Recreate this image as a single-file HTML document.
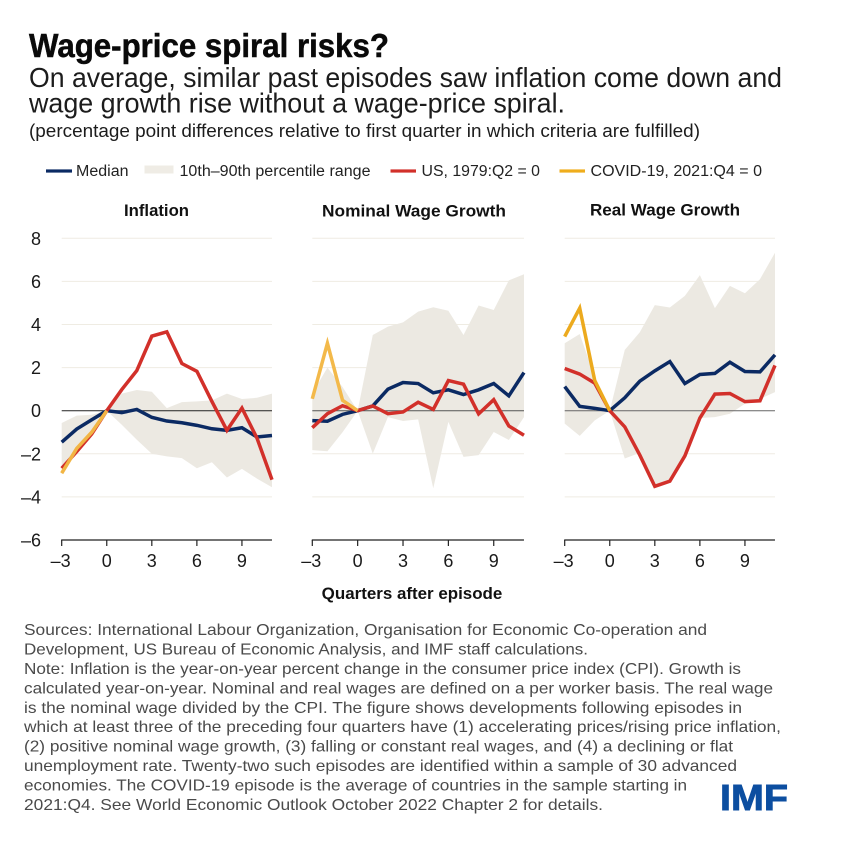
<!DOCTYPE html>
<html lang="en">
<head>
<meta charset="utf-8">
<title>Wage-price spiral risks?</title>
<style>
html,body{margin:0;padding:0;background:#fff;}
svg{display:block;font-family:"Liberation Sans",sans-serif;}
.foot{font-size:16px;fill:#4a4a4a;}
.leg{font-size:15.5px;fill:#222;}
.ptitle{font-size:16.5px;font-weight:bold;fill:#111;}
</style>
</head>
<body>
<svg id="chart" width="858" height="862" viewBox="0 0 858 862" xmlns="http://www.w3.org/2000/svg">
  <rect width="858" height="862" fill="#fff"/>
  <text x="29" y="57" font-size="33" font-weight="bold" fill="#0a0a0a" stroke="#0a0a0a" stroke-width="0.5" textLength="360" lengthAdjust="spacingAndGlyphs">Wage-price spiral risks?</text>
  <text x="29" y="87" font-size="28" fill="#1c1c1c" textLength="753" lengthAdjust="spacingAndGlyphs">On average, similar past episodes saw inflation come down and</text>
  <text x="29" y="112.5" font-size="28" fill="#1c1c1c" textLength="536" lengthAdjust="spacingAndGlyphs">wage growth rise without a wage-price spiral.</text>
  <text x="29" y="137" font-size="18" fill="#1c1c1c" textLength="671" lengthAdjust="spacingAndGlyphs">(percentage point differences relative to first quarter in which criteria are fulfilled)</text>

  <g>
    <rect x="46" y="169.4" width="26" height="3.2" fill="#0b2a63"/>
    <text class="leg" x="76" y="176" textLength="52.5" lengthAdjust="spacingAndGlyphs">Median</text>
    <rect x="144.5" y="165.5" width="29" height="8" fill="#efece5"/>
    <text class="leg" x="179.5" y="176" textLength="191" lengthAdjust="spacingAndGlyphs">10th–90th percentile range</text>
    <rect x="390.5" y="169.4" width="25.5" height="3.2" fill="#d2302a"/>
    <text class="leg" x="421.5" y="176" textLength="118.5" lengthAdjust="spacingAndGlyphs">US, 1979:Q2 = 0</text>
    <rect x="559.5" y="169.4" width="25.5" height="3.2" fill="#efad1c"/>
    <text class="leg" x="590.5" y="176" textLength="171.5" lengthAdjust="spacingAndGlyphs">COVID-19, 2021:Q4 = 0</text>
  </g>

  <text class="ptitle" x="124" y="216" textLength="65" lengthAdjust="spacingAndGlyphs">Inflation</text>
  <text class="ptitle" x="322" y="216.5" textLength="184" lengthAdjust="spacingAndGlyphs">Nominal Wage Growth</text>
  <text class="ptitle" x="590" y="215.5" textLength="150" lengthAdjust="spacingAndGlyphs">Real Wage Growth</text>

  <g id="plots"></g>

  <text x="321.7" y="599" font-size="16.5" font-weight="bold" fill="#111" textLength="180.6" lengthAdjust="spacingAndGlyphs">Quarters after episode</text>

  <g>
    <text class="foot" x="24" y="635" textLength="683" lengthAdjust="spacingAndGlyphs">Sources: International Labour Organization, Organisation for Economic Co-operation and</text>
    <text class="foot" x="24" y="654.4" textLength="564" lengthAdjust="spacingAndGlyphs">Development, US Bureau of Economic Analysis, and IMF staff calculations.</text>
    <text class="foot" x="24" y="673.9" textLength="717" lengthAdjust="spacingAndGlyphs">Note: Inflation is the year-on-year percent change in the consumer price index (CPI). Growth is</text>
    <text class="foot" x="24" y="693.3" textLength="749" lengthAdjust="spacingAndGlyphs">calculated year-on-year. Nominal and real wages are defined on a per worker basis. The real wage</text>
    <text class="foot" x="24" y="712.8" textLength="718" lengthAdjust="spacingAndGlyphs">is the nominal wage divided by the CPI. The figure shows developments following episodes in</text>
    <text class="foot" x="24" y="732.2" textLength="757" lengthAdjust="spacingAndGlyphs">which at least three of the preceding four quarters have (1) accelerating prices/rising price inflation,</text>
    <text class="foot" x="24" y="751.6" textLength="709" lengthAdjust="spacingAndGlyphs">(2) positive nominal wage growth, (3) falling or constant real wages, and (4) a declining or flat</text>
    <text class="foot" x="24" y="771.1" textLength="713" lengthAdjust="spacingAndGlyphs">unemployment rate. Twenty-two such episodes are identified within a sample of 30 advanced</text>
    <text class="foot" x="24" y="790.5" textLength="663" lengthAdjust="spacingAndGlyphs">economies. The COVID-19 episode is the average of countries in the sample starting in</text>
    <text class="foot" x="24" y="810" textLength="579" lengthAdjust="spacingAndGlyphs">2021:Q4. See World Economic Outlook October 2022 Chapter 2 for details.</text>
  </g>

  <text x="720" y="810" font-size="36" font-weight="bold" fill="#0c4ea0" stroke="#0c4ea0" stroke-width="0.9" textLength="68" lengthAdjust="spacingAndGlyphs">IMF</text>
</svg>

<script>
const quarters = [-3,-2,-1,0,1,2,3,4,5,6,7,8,9,10,11];
const yTicks = [8,6,4,2,0,-2,-4,-6];
const xTicks = [-3,0,3,6,9];

const inflationUpper  = [-0.57,-0.23,-0.19,0,0.79,0.96,0.88,0.12,0.40,0.43,0.48,0.79,0.54,0.60,0.79];
const inflationLower  = [-2.95,-1.80,-1.00,0,-0.65,-1.35,-2.00,-2.12,-2.20,-2.67,-2.39,-3.10,-2.70,-3.15,-3.55];
const inflationMedian = [-1.46,-0.85,-0.42,0,-0.09,0.06,-0.31,-0.48,-0.56,-0.68,-0.84,-0.91,-0.79,-1.22,-1.15];
const inflationUS     = [-2.67,-1.90,-1.08,0,0.98,1.86,3.46,3.66,2.19,1.83,0.43,-0.91,0.12,-1.27,-3.20];
const inflationCovid  = [-2.90,-1.75,-1.00,0];

const nominalUpper  = [0.80,2.00,1.10,0,3.51,3.90,4.10,4.60,4.80,4.64,3.51,4.88,4.67,6.05,6.33];
const nominalLower  = [-1.83,-1.88,-1.00,0,-1.99,-0.30,-0.48,-0.40,-3.60,-0.52,-2.14,-2.06,-0.99,-1.36,-0.30];
const nominalMedian = [-0.46,-0.49,-0.17,0,0.22,1.00,1.31,1.26,0.83,0.97,0.75,0.97,1.26,0.69,1.77];
const nominalUS     = [-0.79,-0.14,0.23,0,0.22,-0.14,-0.06,0.39,0.06,1.40,1.23,-0.15,0.51,-0.71,-1.14];
const nominalCovid  = [0.55,3.13,0.48,0];

const realUpper  = [3.13,3.56,1.56,0,2.82,3.64,4.90,4.79,5.33,6.29,4.76,5.79,5.45,6.10,7.33];
const realLower  = [-0.60,-1.17,-0.45,0,-2.22,-1.95,-3.51,-3.27,-2.10,-0.34,-0.30,-0.14,0.32,0.55,0.86];
const realMedian = [1.12,0.20,0.11,0,0.60,1.37,1.85,2.28,1.26,1.68,1.73,2.25,1.82,1.80,2.59];
const realUS     = [1.96,1.70,1.28,0,-0.75,-2.06,-3.51,-3.27,-2.10,-0.34,0.77,0.80,0.42,0.46,2.10];
const realCovid  = [3.44,4.76,1.40,0];

const SVGNS = 'http://www.w3.org/2000/svg';
const plots = document.getElementById('plots');

function yScale(v){ return 410.7 - 21.55 * v; }
function tickText(v){ return v < 0 ? '\u2013' + Math.abs(v) : String(v); }
function make(tag, parent, attrs){
  const el = document.createElementNS(SVGNS, tag);
  for (const k in attrs) el.setAttribute(k, attrs[k]);
  parent.appendChild(el);
  return el;
}
function pointsFor(values, xScale){
  return values.map(function(v, i){
    return xScale(quarters[i]).toFixed(2) + ',' + yScale(v).toFixed(2);
  });
}
function drawSeries(g, values, xScale, color, width, name){
  const line = make('polyline', g, {points: pointsFor(values, xScale).join(' '), fill: 'none', stroke: color, 'stroke-width': width, 'stroke-linejoin': 'miter', 'stroke-miterlimit': 6});
  
  
}
function drawPanel(key, left, step, upper, lower, median, us, covid, showYLabels, zeroColor, covidColor){
  const xScale = function(q){ return left + (q - quarters[0]) * step; };
  const right = xScale(quarters[quarters.length - 1]);
  const g = make('g', plots, {});
  
  

  yTicks.forEach(function(t){
    if (t !== 0 && t !== -6) {
      const grid = make('line', g, {x1: left, x2: right, y1: yScale(t), y2: yScale(t), stroke: '#efece3', 'stroke-width': 1});
      
      
    }
    if (showYLabels) {
      const lab = make('text', g, {x: 41, y: yScale(t) + 6.5, 'text-anchor': 'end', 'font-size': 18, fill: '#1a1a1a'});
      lab.textContent = tickText(t);
      
      
    }
  });

  const bandPts = pointsFor(upper, xScale).concat(pointsFor(lower, xScale).reverse());
  const band = make('polygon', g, {points: bandPts.join(' '), fill: '#ecE9e2'});
  
  

  const zero = make('line', g, {x1: left, x2: right, y1: yScale(0), y2: yScale(0), stroke: zeroColor, 'stroke-width': 1});
  
  

  drawSeries(g, median, xScale, '#0b2a63', 3.5, key + '-median-line');
  drawSeries(g, us, xScale, '#d2302a', 3.5, key + '-us-line');
  drawSeries(g, covid, xScale, covidColor, 3.5, key + '-covid-line');

  const axis = make('line', g, {x1: left - 0.5, x2: right, y1: yScale(-6), y2: yScale(-6), stroke: '#222', 'stroke-width': 1.2});
  
  

  xTicks.forEach(function(t){
    const tick = make('line', g, {x1: xScale(t), x2: xScale(t), y1: yScale(-6), y2: yScale(-6) + 6, stroke: '#222', 'stroke-width': 1.2});
    
    
    const lab = make('text', g, {x: xScale(t) - (t < 0 ? 1 : 0), y: 567, 'text-anchor': 'middle', 'font-size': 18, fill: '#1a1a1a'});
    lab.textContent = tickText(t);
    
    
  });
}

drawPanel('inflation', 61.7, 15.02, inflationUpper, inflationLower, inflationMedian, inflationUS, inflationCovid, true, '#222', '#f2b544');
drawPanel('nominal-wage', 312.3, 15.12, nominalUpper, nominalLower, nominalMedian, nominalUS, nominalCovid, false, '#555', '#f3b94a');
drawPanel('real-wage', 564.7, 15.02, realUpper, realLower, realMedian, realUS, realCovid, false, '#666', '#ecaa1e');
</script>
</body>
</html>
